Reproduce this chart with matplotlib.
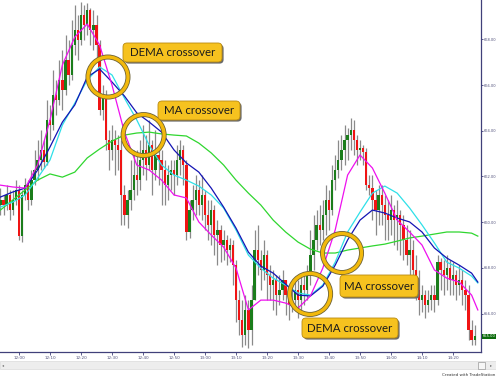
import matplotlib
matplotlib.use("Agg")
import matplotlib.pyplot as plt
from matplotlib.patches import Ellipse, FancyBboxPatch, Rectangle

# ---- data: 1-minute bars, minutes after 12:00 ----
minutes = list(range(-6, 148))
first_open = 660.75
closes = [
    660.97, 660.75, 661.19, 660.53, 660.97, 661.41, 659.39, 661.19, 661.62, 660.97,
    661.84, 662.28, 662.72, 663.16, 662.63, 664.47, 664.25, 665.56, 665.34, 666.22,
    665.78, 667.09, 666.44, 667.75, 668.41, 667.97, 669.06, 668.63, 669.28, 668.41,
    668.63, 667.75, 664.91, 665.56, 663.59, 663.16, 663.59, 663.37, 663.16, 661.19,
    660.31, 660.97, 661.41, 662.06, 661.84, 662.72, 663.16, 662.50, 663.37, 662.28,
    662.94, 662.72, 662.28, 661.62, 662.06, 662.28, 662.06, 662.72, 663.16, 662.50,
    659.57, 660.53, 660.97, 661.41, 660.75, 661.19, 660.31, 659.88, 660.53, 659.44,
    659.66, 659.00, 659.22, 658.78, 659.00, 658.12, 656.59, 655.72, 655.06, 656.16,
    655.28, 656.59, 658.78, 658.34, 657.91, 658.56, 657.69, 657.25, 657.47, 656.81,
    657.03, 657.47, 656.81, 656.37, 656.59, 657.03, 656.59, 657.25, 657.03, 657.69,
    658.56, 659.22, 659.88, 659.66, 660.31, 660.97, 660.53, 661.84, 662.28, 662.72,
    663.16, 663.59, 663.81, 664.03, 663.59, 663.16, 663.24, 663.07, 661.62, 661.49,
    660.97, 660.53, 661.19, 660.75, 660.31, 660.09, 660.53, 660.09, 660.31, 659.88,
    659.22, 658.56, 658.78, 657.91, 657.03, 656.59, 656.81, 656.37, 656.59, 656.81,
    656.59, 658.25, 657.91, 657.69, 657.99, 657.47, 657.69, 657.25, 657.47, 657.03,
    656.81, 655.28, 654.84, 655.00,
]
highs = [
    661.49, 661.19, 661.62, 661.41, 661.41, 661.84, 661.62, 661.41, 661.93, 661.84,
    662.28, 663.16, 663.59, 664.03, 663.59, 665.34, 665.13, 666.66, 666.22, 667.09,
    667.53, 668.19, 667.97, 668.84, 669.50, 669.06, 669.63, 669.50, 669.59, 669.37,
    669.28, 669.06, 667.97, 666.00, 665.78, 664.03, 664.25, 664.03, 663.81, 663.59,
    661.62, 661.41, 662.72, 663.16, 663.16, 663.59, 664.25, 663.81, 664.47, 663.59,
    664.03, 663.37, 663.16, 662.72, 662.50, 662.72, 662.72, 663.37, 663.59, 663.37,
    662.72, 660.97, 661.62, 662.06, 661.84, 662.06, 661.41, 660.97, 660.97, 660.75,
    660.09, 659.88, 659.66, 659.44, 659.31, 659.22, 658.34, 657.03, 656.59, 656.81,
    656.59, 657.25, 659.66, 659.88, 658.78, 659.22, 658.78, 658.12, 657.91, 657.69,
    657.69, 657.91, 657.47, 657.25, 657.25, 657.47, 657.47, 657.69, 657.69, 658.12,
    659.66, 660.31, 660.53, 660.75, 660.97, 661.62, 661.41, 662.50, 662.94, 663.59,
    663.81, 664.25, 664.12, 664.56, 664.47, 663.81, 663.59, 663.37, 663.24, 662.06,
    662.06, 661.41, 661.62, 661.62, 661.19, 660.97, 661.19, 660.75, 660.97, 660.53,
    660.31, 659.88, 659.66, 659.22, 658.56, 657.91, 657.25, 657.03, 657.03, 657.25,
    657.25, 658.56, 658.43, 658.34, 658.56, 658.34, 658.25, 657.91, 658.12, 657.91,
    657.47, 657.25, 655.72, 655.50,
]
lows = [
    660.31, 660.31, 660.53, 660.09, 660.31, 660.75, 659.22, 659.13, 660.97, 660.53,
    660.75, 661.62, 661.84, 662.28, 662.37, 662.50, 663.59, 664.03, 664.69, 665.13,
    664.91, 665.56, 666.00, 666.22, 667.31, 667.09, 667.75, 667.97, 668.19, 667.75,
    667.53, 667.09, 664.69, 664.47, 663.16, 662.28, 662.72, 662.06, 662.28, 659.88,
    659.88, 659.74, 660.53, 660.97, 661.19, 661.41, 662.06, 661.84, 662.28, 661.19,
    661.84, 661.62, 660.75, 660.75, 660.97, 661.41, 661.19, 661.62, 662.06, 661.62,
    659.22, 659.31, 660.09, 660.31, 660.31, 660.09, 659.66, 659.22, 659.00, 658.56,
    658.12, 658.25, 658.34, 658.12, 658.25, 657.25, 655.63, 655.06, 654.54, 654.62,
    654.49, 654.62, 656.59, 657.69, 657.03, 657.47, 656.59, 656.59, 656.16, 655.94,
    656.37, 656.59, 655.94, 655.72, 656.07, 656.16, 655.80, 656.16, 656.37, 656.59,
    657.25, 657.91, 658.78, 659.00, 659.22, 659.44, 659.66, 660.31, 661.41, 661.93,
    662.28, 662.50, 662.72, 663.16, 662.94, 662.50, 662.72, 662.50, 661.41, 661.19,
    660.09, 659.44, 659.88, 659.88, 659.22, 659.22, 659.44, 659.00, 658.78, 658.56,
    658.34, 658.12, 657.47, 657.03, 656.59, 655.94, 656.07, 655.80, 656.07, 656.16,
    656.07, 656.37, 657.03, 656.81, 657.03, 656.81, 656.81, 656.59, 656.81, 656.37,
    656.16, 654.84, 654.62, 654.62,
]

# indicator lines
line_minutes = [-6, -2, 2, 6, 10, 14, 18, 22, 26, 30, 34, 38, 42, 46, 50, 54, 58, 62, 66, 70,
                74, 78, 82, 86, 90, 94, 98, 102, 106, 110, 114, 118, 122, 126, 130, 134, 138,
                142, 146, 148]
dema_fast = [661.62, 661.54, 661.49, 662.50, 664.47, 666.88, 668.10, 668.67, 667.75, 666.00,
             663.94, 662.50, 662.28, 661.84, 661.19, 661.06, 660.01, 659.44, 658.91, 657.99,
             656.16, 656.59, 656.59, 656.46, 656.24, 656.77, 657.99, 659.66, 662.06, 662.94,
             662.37, 661.27, 660.09, 659.57, 659.00, 657.91, 657.55, 657.38, 656.81, 656.16]
dema_slow = [660.66, 660.88, 661.19, 661.93, 662.72, 664.25, 665.21, 666.22, 666.79, 666.44,
             665.43, 664.47, 663.37, 662.50, 662.06, 661.84, 661.58, 661.19, 660.62, 659.66,
             658.56, 657.99, 657.55, 657.25, 656.90, 656.81, 657.25, 658.25, 659.57, 660.44,
             661.27, 661.58, 661.27, 660.62, 659.88, 659.09, 658.25, 657.99, 657.64, 657.34]
ma_fast = [661.10, 661.32, 661.49, 662.28, 663.29, 664.38, 665.13, 666.35, 666.70, 666.13,
           665.52, 664.78, 664.38, 663.94, 663.16, 662.59, 662.19, 661.49, 660.66, 659.74,
           658.69, 658.08, 657.77, 657.29, 656.81, 656.77, 657.20, 658.12, 659.22, 660.09,
           660.53, 660.40, 660.18, 660.01, 659.57, 658.87, 658.43, 658.12, 657.77, 657.38]
ma_slow = [660.53, 660.97, 661.41, 661.84, 662.11, 661.97, 662.19, 662.81, 663.20, 663.55,
           663.81, 663.90, 663.94, 663.86, 663.81, 663.77, 663.46, 663.03, 662.50, 661.84,
           661.27, 660.75, 660.09, 659.57, 659.13, 658.82, 658.65, 658.65, 658.78, 658.87,
           658.96, 659.04, 659.17, 659.31, 659.39, 659.48, 659.57, 659.57, 659.52, 659.39]

time_ticks = [0, 10, 20, 30, 40, 50, 60, 70, 80, 90, 100, 110, 120, 130, 140]
time_labels = ["12:00", "12:10", "12:20", "12:30", "12:40", "12:50", "13:00", "13:10",
               "13:20", "13:30", "13:40", "13:50", "14:00", "14:10", "14:20"]
price_ticks = [656, 658, 660, 662, 664, 666, 668]

# ---- figure ----
W, H = 496, 380
fig = plt.figure(figsize=(W / 100, H / 100), dpi=100)
fig.patch.set_facecolor("white")
ax = fig.add_axes([0, 28 / H, 481 / W, 352 / H])
ax.set_xlim(-6.13, 149.03)
ax.set_ylim(654.32, 669.72)

opens = [first_open] + closes[:-1]
up_col, dn_col = "#1b7d1b", "#f01414"
for t, o, c, h, l in zip(minutes, opens, closes, highs, lows):
    ax.vlines(t, min(l, o, c), max(h, o, c), color="#8a8a8a", lw=0.9, zorder=2)
    col = up_col if c >= o else dn_col
    ax.bar(t, max(abs(c - o), 0.04), bottom=min(o, c), width=0.72, color=col,
           linewidth=0, zorder=3)

ax.plot(line_minutes, ma_slow, color="#2fd62f", lw=0.9, zorder=4)
ax.plot(line_minutes, dema_slow, color="#2ee0e8", lw=0.9, zorder=4)
ax.plot(line_minutes, ma_fast, color="#1414b4", lw=0.9, zorder=4)
ax.plot(line_minutes, dema_fast, color="#ee10ee", lw=0.9, zorder=5)

# axes styling
for s in ("left", "top"):
    ax.spines[s].set_visible(False)
for s in ("right", "bottom"):
    ax.spines[s].set_color("#40407a")
    ax.spines[s].set_linewidth(0.9)
ax.yaxis.tick_right()
ax.set_yticks(price_ticks)
ax.set_yticklabels([f"{p:.2f}" for p in price_ticks])
ax.set_xticks(time_ticks)
ax.set_xticklabels(time_labels)
ax.tick_params(axis="x", colors="#40407a", labelcolor="#50507a", labelsize=3.0,
               length=2, width=0.6, pad=1)
ax.tick_params(axis="y", colors="#40407a", labelcolor="#50507a", labelsize=2.6,
               length=1.5, width=0.6, pad=0.4)

# last price marker
last = closes[-1]
ax.text(1.003, last, f"{last:.2f}", transform=ax.get_yaxis_transform(), fontsize=2.6,
        color="white", va="center", ha="left", clip_on=False, zorder=6,
        bbox=dict(boxstyle="square,pad=0.25", fc="#0b6a0b", ec="none"))

# crossover circles (data coords), radius in pixels
px_per_min = 3.1
px_per_pt = 1 / 0.04376
circles = [(28.7, 666.35, 20), (40.2, 663.81, 20.5), (93.9, 656.86, 20.5), (104.2, 658.65, 19.5)]
for t, p, r in circles:
    for lw, col in ((3.6, "#6d6237"), (2.4, "#f2b90c")):
        ax.add_patch(Ellipse((t, p), 2 * r / px_per_min, 2 * r / px_per_pt, fill=False,
                             lw=lw, ec=col, zorder=7))

# callout labels (figure pixels)
labels = [("DEMA crossover", 123, 43, 222, 62), ("MA crossover", 158, 101, 240, 120),
          ("MA crossover", 340, 275, 418, 297), ("DEMA crossover", 302, 318, 398, 338)]
for txt, x0, y0, x1, y1 in labels:
    for dx, fc, ec in ((1.6, "#6b6b6b", "none"), (0, "#f6c21f", "#b88a10")):
        box = FancyBboxPatch(((x0 + dx) / 100, (H - y1 - dx) / 100), (x1 - x0) / 100,
                             (y1 - y0) / 100, boxstyle="round,pad=0,rounding_size=0.04",
                             transform=fig.dpi_scale_trans, fc=fc, ec=ec, lw=0.6, zorder=8)
        fig.add_artist(box)
    fig.text((x0 + x1) / 2 / W, 1 - (y0 + y1) / 2 / H, txt, ha="center", va="center",
             fontsize=8.3, family=["Lato", "DejaVu Sans"], color="#1c1c1c", zorder=9)

# scroll bar and footer
fig.add_artist(Rectangle((0, (H - 369) / 100), W / 100, 0.08, transform=fig.dpi_scale_trans,
                         fc="#ededed", ec="#dadada", lw=0.5))
fig.add_artist(Rectangle((478 / 100, (H - 369) / 100), 0.07, 0.075,
                         transform=fig.dpi_scale_trans, fc="#f6f6f6", ec="#9a9a9a", lw=0.5))
fig.text(2 / W, 1 - 365 / H, "\u25c2", fontsize=3, color="#707070", va="center")
fig.text(490 / W, 1 - 365 / H, "\u25b8", fontsize=3, color="#707070", va="center")
fig.text(495 / W, 1 - 375 / H, "Created with TradeStation", fontsize=3, color="#333333",
         ha="right", va="center")

fig.savefig("out.png", dpi=100)
